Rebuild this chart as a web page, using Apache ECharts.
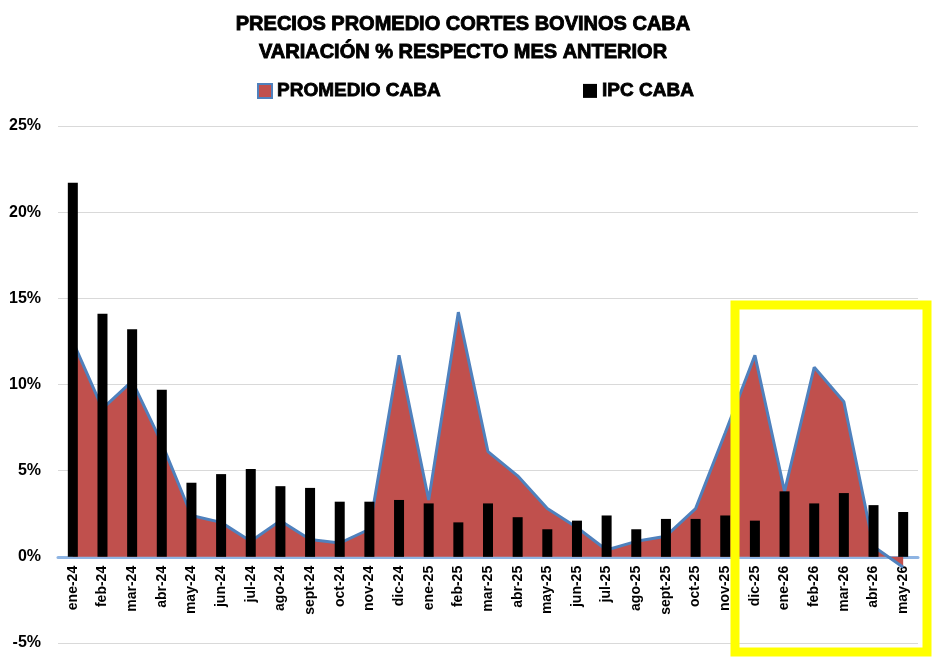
<!DOCTYPE html>
<html>
<head>
<meta charset="utf-8">
<script src="https://cdn.jsdelivr.net/npm/echarts@6/dist/echarts.min.js"></script>
<style>
  html, body { margin: 0; padding: 0; background: #fff; }
  #chart { width: 932px; height: 663px; }
</style>
</head>
<body>
<div id="chart"></div>
<script>
// meses
var meses = ['ene-24','feb-24','mar-24','abr-24','may-24','jun-24','jul-24','ago-24','sept-24','oct-24','nov-24','dic-24',
             'ene-25','feb-25','mar-25','abr-25','may-25','jun-25','jul-25','ago-25','sept-25','oct-25','nov-25','dic-25',
             'ene-26','feb-26','mar-26','abr-26','may-26'];

// variacion % promedio cortes bovinos CABA
var promedioCaba = [12.5, 8.6, 10.2, 6.6, 2.4, 2.0, 0.9, 2.1, 1.0, 0.8, 1.6, 11.7,
                    3.3, 14.2, 6.1, 4.7, 2.8, 1.7, 0.4, 0.9, 1.2, 2.8, 7.2, 11.7,
                    3.8, 11.0, 9.0, 0.6, -0.6];

// IPC CABA
var ipcCaba = [21.7, 14.1, 13.2, 9.7, 4.3, 4.8, 5.1, 4.1, 4.0, 3.2, 3.2, 3.3,
               3.1, 2.0, 3.1, 2.3, 1.6, 2.1, 2.4, 1.6, 2.2, 2.2, 2.4, 2.1,
               3.8, 3.1, 3.7, 3.0, 2.6];

var ejeMin = -5, ejeMax = 25, ejePaso = 5;

(function(){
  var myChart = echarts.init(document.getElementById('chart'));
  var fuente = '"Liberation Sans", Arial, sans-serif';

  var option = {
    backgroundColor: '#fff',
    animation: false,
    title: {
      text: 'PRECIOS PROMEDIO CORTES BOVINOS CABA\nVARIACIÓN % RESPECTO MES ANTERIOR',
      left: 458,
      top: 5,
      textAlign: 'center',
      textStyle: {
        fontFamily: fuente,
        fontSize: 20,
        fontWeight: 'bold',
        color: '#000',
        lineHeight: 28,
        textBorderColor: '#000',
        textBorderWidth: 0.9
      }
    },
    legend: {
      top: 76,
      left: 252,
      itemGap: 142,
      itemWidth: 14,
      itemHeight: 14,
      icon: 'rect',
      textStyle: { fontFamily: fuente, fontSize: 19, fontWeight: 'bold', color: '#000',
                   textBorderColor: '#000', textBorderWidth: 0.8 },
      data: [
        { name: 'PROMEDIO CABA', itemStyle: { color: '#c0504d', borderColor: '#4f81bd', borderWidth: 2 } },
        { name: 'IPC CABA', itemStyle: { color: '#000' } }
      ]
    },
    grid: { left: 58, right: 14, top: 126, bottom: 20, outerBoundsMode: 'none', containLabel: false },
    xAxis: {
      type: 'category',
      data: meses,
      boundaryGap: true,
      offset: 0,
      axisLine: { onZero: false, lineStyle: { color: '#8eb4e3', width: 3 } },
      axisTick: { show: false },
      axisLabel: {
        rotate: 90,
        interval: 0,
        margin: 9,
        fontFamily: fuente,
        fontSize: 14,
        fontWeight: 'bold',
        color: '#000'
      }
    },
    yAxis: {
      type: 'value',
      min: ejeMin,
      max: ejeMax,
      interval: ejePaso,
      axisLine: { show: false },
      axisTick: { show: false },
      splitLine: { lineStyle: { color: '#d9d9d9', width: 1 } },
      axisLabel: {
        formatter: '{value}%',
        margin: 17,
        fontFamily: fuente,
        fontSize: 16,
        fontWeight: 'bold',
        color: '#000'
      }
    },
    series: [
      {
        name: 'PROMEDIO CABA',
        type: 'line',
        data: promedioCaba,
        symbol: 'none',
        z: 2,
        lineStyle: { color: '#4f81bd', width: 3 },
        itemStyle: { color: '#c0504d' },
        areaStyle: { color: '#c0504d', opacity: 1, origin: 0 }
      },
      {
        name: 'IPC CABA',
        type: 'bar',
        data: ipcCaba,
        barWidth: 10,
        z: 3,
        itemStyle: { color: '#000' }
      }
    ],
    graphic: [
      {
        type: 'rect',
        z: 100,
        shape: { x: 735, y: 305, width: 192, height: 347 },
        style: { fill: null, stroke: '#ffff00', lineWidth: 9 }
      }
    ]
  };

  myChart.setOption(option);

  // subir el eje de categorias hasta el 0% (las etiquetas siguen al eje)
  var yCero = myChart.convertToPixel({ yAxisIndex: 0 }, 0);
  var yBase = myChart.convertToPixel({ yAxisIndex: 0 }, ejeMin);
  myChart.setOption({ xAxis: { offset: yCero - yBase } });
})();
</script>
</body>
</html>
